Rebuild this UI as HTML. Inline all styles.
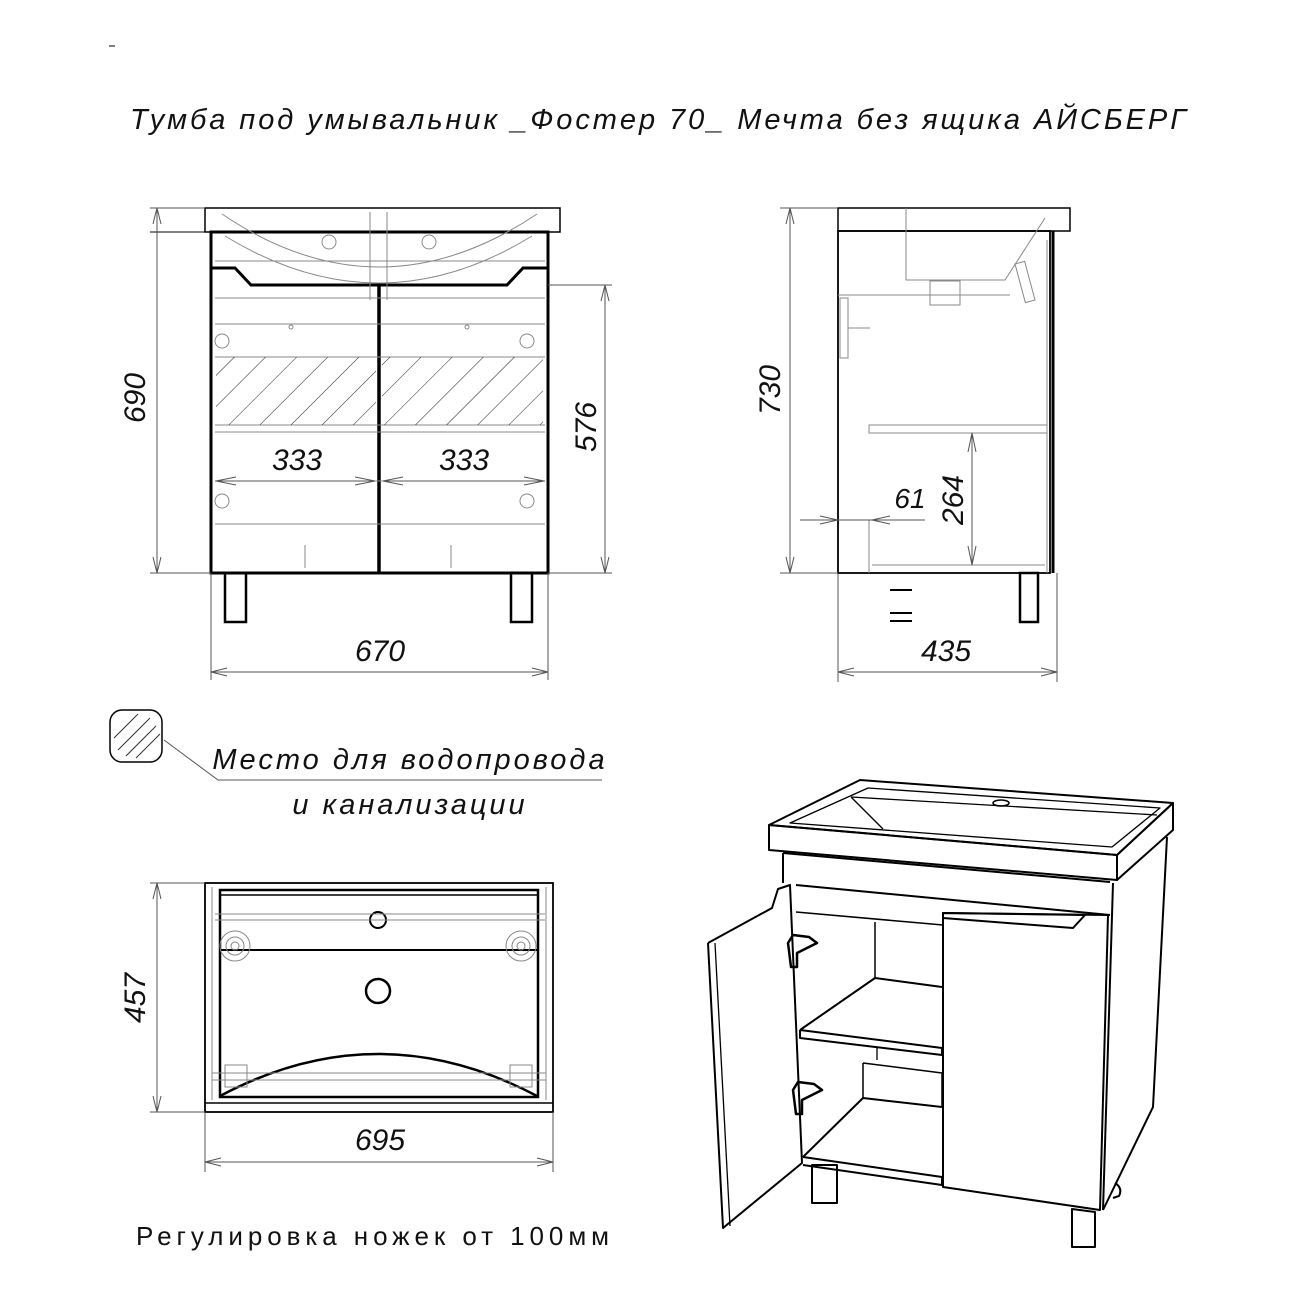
<!DOCTYPE html>
<html><head><meta charset="utf-8"><style>
html,body{margin:0;padding:0;background:#fff}
svg{display:block}
text{font-family:"Liberation Sans","DejaVu Sans",sans-serif;font-style:italic;fill:#111}
</style></head><body>
<svg width="1300" height="1300" viewBox="0 0 1300 1300" xmlns="http://www.w3.org/2000/svg">
<defs>
<pattern id="h" width="22" height="22" patternUnits="userSpaceOnUse" patternTransform="rotate(45)">
<line x1="0" y1="0" x2="0" y2="22" stroke="#222" stroke-width="1"/></pattern>
</defs>
<line x1="109" y1="46" x2="115" y2="46" stroke="#000"/>
<text x="660" y="129" font-size="29" text-anchor="middle" letter-spacing="4" textLength="1060">Тумба под умывальник _Фостер 70_ Мечта без ящика АЙСБЕРГ</text>

<!-- FRONT VIEW -->
<g fill="none" stroke="#000">
<rect x="205" y="208" width="355" height="24" stroke-width="1.5"/>
<line x1="150" y1="232" x2="560" y2="232" stroke-width="1"/>
<rect x="211" y="232" width="337" height="341" stroke-width="3"/>
<line x1="379" y1="285" x2="379" y2="573" stroke-width="3.5"/>
<polyline points="211,268 235,268 251,285 507,285 523,268 548,268" stroke-width="3"/>
<g stroke="#888" stroke-width="1">
<path d="M222,214 Q379,320 537,214"/>
<path d="M225,236 Q379,330 532,236"/>
<line x1="370" y1="212" x2="370" y2="300"/><line x1="387" y1="212" x2="387" y2="300"/>
<circle cx="329" cy="242" r="7"/><circle cx="429" cy="242" r="7"/>
<line x1="215" y1="261" x2="545" y2="261"/>
<line x1="215" y1="298" x2="545" y2="298"/>
<line x1="215" y1="324" x2="545" y2="324"/>
<line x1="215" y1="357" x2="545" y2="357"/>
<line x1="215" y1="425" x2="545" y2="425"/>
<line x1="215" y1="432" x2="545" y2="432"/>
<line x1="215" y1="481" x2="545" y2="481"/>
<line x1="215" y1="524" x2="545" y2="524"/>
<line x1="305" y1="545" x2="305" y2="568"/><line x1="451" y1="545" x2="451" y2="568"/>
<circle cx="222" cy="341" r="7"/><circle cx="222" cy="501" r="7"/>
<circle cx="527" cy="341" r="7"/><circle cx="527" cy="501" r="7"/>
<circle cx="291" cy="327" r="2"/><circle cx="467" cy="327" r="2"/>
</g>
<rect x="216" y="357" width="160" height="68" fill="url(#h)" stroke="none"/>
<rect x="382" y="357" width="161" height="68" fill="url(#h)" stroke="none"/>
<rect x="225" y="573" width="21" height="49" stroke-width="2.5"/>
<rect x="511" y="573" width="21" height="49" stroke-width="2.5"/>
<g stroke="#555" stroke-width="1">
<line x1="150" y1="208" x2="205" y2="208"/><line x1="150" y1="573" x2="211" y2="573"/>
<line x1="157" y1="208" x2="157" y2="573"/>
<polyline points="153,224 157,208 161,224"/><polyline points="153,557 157,573 161,557"/>
<line x1="548" y1="285" x2="612" y2="285"/><line x1="548" y1="573" x2="612" y2="573"/>
<line x1="605" y1="285" x2="605" y2="573"/>
<polyline points="601,301 605,285 609,301"/><polyline points="601,557 605,573 609,557"/>
<line x1="211" y1="573" x2="211" y2="680"/><line x1="548" y1="573" x2="548" y2="680"/>
<line x1="211" y1="672" x2="548" y2="672"/>
<polyline points="227,668 211,672 227,676"/><polyline points="532,668 548,672 532,676"/>
<line x1="215" y1="481" x2="375" y2="481"/><line x1="383" y1="481" x2="545" y2="481"/>
<polyline points="236,477 216,481 236,485"/><polyline points="355,477 375,481 355,485"/>
<polyline points="403,477 383,481 403,485"/><polyline points="524,477 544,481 524,485"/>
</g>
</g>
<text x="297" y="470" font-size="30" text-anchor="middle">333</text>
<text x="464" y="470" font-size="30" text-anchor="middle">333</text>
<text x="380" y="661" font-size="30" text-anchor="middle">670</text>
<text transform="translate(145,398) rotate(-90)" font-size="30" text-anchor="middle">690</text>
<text transform="translate(596,427) rotate(-90)" font-size="30" text-anchor="middle">576</text>

<!-- SIDE VIEW -->
<g fill="none" stroke="#000">
<rect x="838" y="208" width="232" height="23" stroke-width="1.5"/>
<rect x="838" y="231" width="212" height="342" stroke-width="1.8"/>
<line x1="1053" y1="231" x2="1053" y2="573" stroke-width="3"/>
<g stroke="#888" stroke-width="1">
<polyline points="906,208 906,280 1005,280 1045,218"/>
<line x1="838" y1="295" x2="1010" y2="295"/>
<rect x="930" y="281" width="30" height="24"/>
<rect x="869" y="425" width="178" height="8"/>
<line x1="1047" y1="240" x2="1047" y2="573"/>
<rect x="1020" y="262" width="10" height="40" transform="rotate(-15 1025 282)"/>
<rect x="840" y="298" width="8" height="60"/>
<line x1="848" y1="328" x2="870" y2="328"/>
<line x1="869" y1="520" x2="869" y2="573"/>
<line x1="872" y1="565" x2="1045" y2="565"/>
</g>
<rect x="1020" y="573" width="18" height="49" stroke-width="2.5"/>
<line x1="890" y1="590" x2="912" y2="590" stroke-width="2"/>
<line x1="890" y1="613" x2="912" y2="613" stroke-width="2"/>
<line x1="890" y1="621" x2="912" y2="621" stroke-width="2"/>
<g stroke="#555" stroke-width="1">
<line x1="780" y1="208" x2="838" y2="208"/><line x1="780" y1="573" x2="838" y2="573"/>
<line x1="790" y1="208" x2="790" y2="573"/>
<polyline points="786,224 790,208 794,224"/><polyline points="786,557 790,573 794,557"/>
<line x1="838" y1="573" x2="838" y2="682"/><line x1="1057" y1="573" x2="1057" y2="682"/>
<line x1="838" y1="672" x2="1057" y2="672"/>
<polyline points="854,668 838,672 854,676"/><polyline points="1041,668 1057,672 1041,676"/>
<line x1="972" y1="433" x2="972" y2="565"/>
<polyline points="968,452 972,433 976,452"/><polyline points="968,546 972,565 976,546"/>
<line x1="800" y1="520" x2="925" y2="520"/>
<polyline points="820,516 838,520 820,524"/><polyline points="890,516 872,520 890,524"/>
</g>
</g>
<text transform="translate(963,500) rotate(-90)" font-size="30" text-anchor="middle">264</text>
<text x="910" y="508" font-size="28" text-anchor="middle">61</text>
<text x="946" y="661" font-size="30" text-anchor="middle">435</text>
<text transform="translate(780,390) rotate(-90)" font-size="30" text-anchor="middle">730</text>

<!-- Legend -->
<g fill="none" stroke="#000">
<rect x="110" y="710" width="52" height="52" rx="12" stroke-width="1.5"/>
<g stroke="#333"><line x1="118" y1="750" x2="150" y2="718"/><line x1="126" y1="756" x2="156" y2="726"/><line x1="114" y1="738" x2="138" y2="714"/><line x1="136" y1="758" x2="160" y2="734"/></g>
<polyline points="164,740 218,780 602,780" stroke="#555"/>
</g>
<text x="410" y="769" font-size="29" text-anchor="middle" letter-spacing="3">Место для водопровода</text>
<text x="410" y="814" font-size="29" text-anchor="middle" letter-spacing="3">и канализации</text>

<!-- TOP VIEW -->
<g fill="none" stroke="#000">
<rect x="205" y="883" width="348" height="229" stroke-width="1.8"/>
<rect x="220" y="890" width="318" height="207" stroke-width="2.5"/>
<line x1="220" y1="895" x2="538" y2="895" stroke-width="1.5"/>
<line x1="220" y1="950" x2="538" y2="950" stroke-width="2"/>
<line x1="205" y1="1103" x2="553" y2="1103" stroke-width="1.5"/>
<circle cx="378" cy="920" r="8" stroke-width="2"/>
<circle cx="378" cy="991" r="12" stroke-width="2.5"/>
<path d="M220,1096 Q378,1012 537,1096" stroke-width="2.5"/>
<g stroke="#888" stroke-width="1">
<line x1="215" y1="914" x2="545" y2="914"/>
<line x1="215" y1="920" x2="545" y2="920"/>
<circle cx="235" cy="946" r="15"/><circle cx="235" cy="946" r="9"/><circle cx="235" cy="946" r="4"/>
<circle cx="521" cy="946" r="15"/><circle cx="521" cy="946" r="9"/><circle cx="521" cy="946" r="4"/>
<rect x="225" y="1065" width="22" height="22"/><rect x="510" y="1065" width="22" height="22"/>
<line x1="212" y1="1073" x2="546" y2="1073"/><line x1="212" y1="1080" x2="546" y2="1080"/>
<line x1="212" y1="887" x2="212" y2="1100"/><line x1="546" y1="887" x2="546" y2="1100"/>
</g>
<g stroke="#555" stroke-width="1">
<line x1="150" y1="883" x2="205" y2="883"/><line x1="150" y1="1112" x2="205" y2="1112"/>
<line x1="157" y1="883" x2="157" y2="1112"/>
<polyline points="153,899 157,883 161,899"/><polyline points="153,1096 157,1112 161,1096"/>
<line x1="205" y1="1112" x2="205" y2="1172"/><line x1="553" y1="1112" x2="553" y2="1172"/>
<line x1="205" y1="1162" x2="553" y2="1162"/>
<polyline points="221,1158 205,1162 221,1166"/><polyline points="537,1158 553,1162 537,1166"/>
</g>
</g>
<text x="380" y="1150" font-size="30" text-anchor="middle">695</text>
<text transform="translate(145,998) rotate(-90)" font-size="30" text-anchor="middle">457</text>
<text x="136" y="1245" font-size="26" letter-spacing="3" textLength="476" style="font-style:normal">Регулировка ножек от 100мм</text>

<!-- ISOMETRIC -->
<g fill="none" stroke="#000" stroke-width="2" stroke-linejoin="round">
<polygon points="769,825 860,780 1173,803 1117,855"/>
<polygon points="769,825 1117,855 1117,880 769,850"/>
<polygon points="1117,855 1173,803 1173,830 1117,880"/>
<polygon points="790,823 868,788 1160,808 1112,847" stroke-width="1.3"/>
<polyline points="851,797 883,829" stroke-width="1.3"/>
<polyline points="851,797 1157,815" stroke-width="1.3"/>
<ellipse cx="1001" cy="803" rx="8" ry="3" stroke-width="1.5"/>
<polyline points="783,853 783,883"/>
<line x1="783" y1="853" x2="1110" y2="882"/>
<polyline points="1167,837 1153,1107 1103,1210"/>
<line x1="1113" y1="883" x2="1103" y2="1210"/>
<line x1="796" y1="885" x2="1110" y2="915"/>
<polygon points="943,913 1085,915 1073,928 943,918"/>
<polygon points="943,913 1108,915 1100,1210 943,1187"/>
<polyline points="708,943 772,908 778,889 790,885 802,1163 723,1228 708,943"/>
<line x1="715" y1="943" x2="730" y2="1226" stroke-width="1.3"/>
<line x1="796" y1="912" x2="943" y2="925" stroke-width="1.5"/>
<line x1="875" y1="922" x2="875" y2="978" stroke-width="1.5"/>
<polyline points="800,1030 875,978 942,987"/>
<polyline points="800,1030 942,1048 942,1055 800,1038 800,1030"/>
<line x1="877" y1="1048" x2="877" y2="1060" stroke-width="1.3"/>
<polyline points="863,1063 942,1073 942,1107" stroke-width="1.5"/>
<polyline points="863,1063 863,1098" stroke-width="1.5"/>
<polyline points="803,1157 863,1098 942,1107"/>
<polyline points="803,1157 942,1177 942,1185 803,1165"/>
<rect x="812" y="1165" width="25" height="38"/>
<polygon points="1072,1209 1095,1212 1095,1247 1072,1247"/>
<path d="M1115,1183 q8,5 4,13 l-6,2"/>
<g stroke-width="2.5">
<path d="M788,943 l5,-8 l16,2 l8,6 l-20,10 v14 h-6z"/>
<path d="M793,1090 l5,-8 l16,2 l8,6 l-20,10 v14 h-6z"/>
</g>
</g>
</svg>
</body></html>
